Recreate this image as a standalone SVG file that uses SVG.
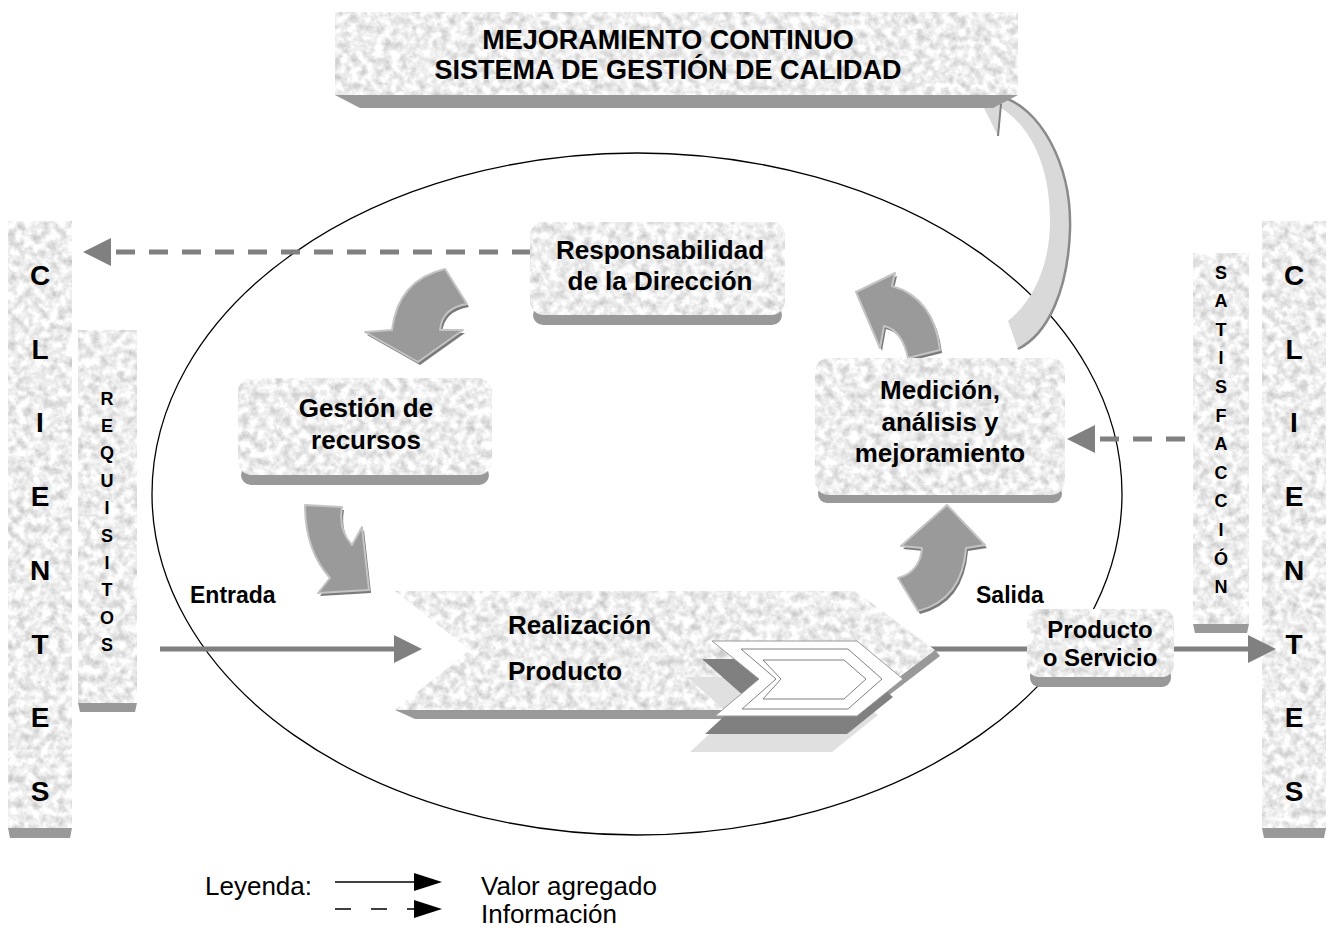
<svg xmlns="http://www.w3.org/2000/svg" width="1331" height="931" viewBox="0 0 1331 931">
<style>
.tex{fill:#e6e6e6;filter:url(#granite)}
.sh{fill:#999999}
.t{font-family:"Liberation Sans",Arial,sans-serif;font-weight:bold;fill:#000}
.big{font-size:26px;text-anchor:middle}
.ban{font-size:27px;text-anchor:middle}
.col{font-size:28px;text-anchor:middle}
.colS{font-size:18px;text-anchor:middle}
.lab{font-size:23px}
.leg{font-family:"Liberation Sans",Arial,sans-serif;font-size:26px;fill:#000}
.conn{stroke:#808080;stroke-width:5;fill:none}
.dash{stroke-dasharray:19 14}
.blk{fill:#9a9a9a;stroke:#c4c4c4;stroke-width:2;stroke-linejoin:round}
.blkS{fill:#7a7a7a}
</style>
<defs>
<filter id="granite" x="0" y="0" width="1" height="1" color-interpolation-filters="sRGB">
<feTurbulence type="fractalNoise" baseFrequency="0.12" numOctaves="4" seed="7" result="n"/>
<feColorMatrix in="n" type="matrix" values="0.4 0 0 0 0.73  0.4 0 0 0 0.73  0.4 0 0 0 0.73  0 0 0 0 1"/>
<feComposite in2="SourceGraphic" operator="in"/>
</filter>
<marker id="grayHead" markerUnits="userSpaceOnUse" markerWidth="28" markerHeight="28" refX="0" refY="14" orient="auto"><path d="M0,0 L28,14 L0,28 Z" fill="#808080"/></marker>
<marker id="blackHead" markerUnits="userSpaceOnUse" markerWidth="28" markerHeight="18" refX="0" refY="9" orient="auto"><path d="M0,0 L28,9 L0,18 Z" fill="#000"/></marker>
<path id="a1" d="M445,269 Q398,280 392,330 L365,332 L418,362 L463,330 L440,330 Q442,308 467,304 Z"/>
<path id="a2" d="M892,286 Q934,298 940,350 L908,358 Q902,330 884,326 L880,348 L856,292 L895,273 Z"/>
<path id="a3" d="M305,505 L342,507 Q338,530 352,545 L362,527 L369,590 L318,593 L330,578 Q305,550 305,505 Z"/>
<path id="a4" d="M918,611 Q962,600 966,548 L985,545 L947,505 L901,546 L922,548 Q920,572 898,578 Z"/>
</defs>
<rect width="1331" height="931" fill="#fff"/>

<g id="cycle-ellipse">
<ellipse cx="637" cy="494" rx="485" ry="341" fill="none" stroke="#000" stroke-width="1.3"/>
</g>

<g id="clientes-left">
<rect class="tex" x="8" y="221" width="64" height="607"/>
<polygon class="sh" points="8,828 72,828 70,838 10,838"/>
<text class="t col" x="40" y="285">C</text>
<text class="t col" x="40" y="359">L</text>
<text class="t col" x="40" y="432">I</text>
<text class="t col" x="40" y="506">E</text>
<text class="t col" x="40" y="580">N</text>
<text class="t col" x="40" y="654">T</text>
<text class="t col" x="40" y="727">E</text>
<text class="t col" x="40" y="801">S</text>
</g>

<g id="requisitos">
<rect class="tex" x="78" y="330" width="59" height="373"/>
<polygon class="sh" points="78,703 137,703 135,712 80,712"/>
<text class="t colS" x="107" y="405">R</text>
<text class="t colS" x="107" y="432">E</text>
<text class="t colS" x="107" y="459">Q</text>
<text class="t colS" x="107" y="487">U</text>
<text class="t colS" x="107" y="514">I</text>
<text class="t colS" x="107" y="542">S</text>
<text class="t colS" x="107" y="569">I</text>
<text class="t colS" x="107" y="596">T</text>
<text class="t colS" x="107" y="624">O</text>
<text class="t colS" x="107" y="651">S</text>
</g>

<g id="satisfaccion">
<rect class="tex" x="1193" y="253" width="56" height="371"/>
<polygon class="sh" points="1193,624 1249,624 1247,633 1195,633"/>
<text class="t colS" x="1221" y="279">S</text>
<text class="t colS" x="1221" y="307">A</text>
<text class="t colS" x="1221" y="336">T</text>
<text class="t colS" x="1221" y="364">I</text>
<text class="t colS" x="1221" y="393">S</text>
<text class="t colS" x="1221" y="422">F</text>
<text class="t colS" x="1221" y="450">A</text>
<text class="t colS" x="1221" y="479">C</text>
<text class="t colS" x="1221" y="507">C</text>
<text class="t colS" x="1221" y="536">I</text>
<text class="t colS" x="1221" y="565">Ó</text>
<text class="t colS" x="1221" y="593">N</text>
</g>

<g id="clientes-right">
<rect class="tex" x="1262" y="221" width="64" height="607"/>
<polygon class="sh" points="1262,828 1326,828 1324,838 1264,838"/>
<text class="t col" x="1294" y="285">C</text>
<text class="t col" x="1294" y="359">L</text>
<text class="t col" x="1294" y="432">I</text>
<text class="t col" x="1294" y="506">E</text>
<text class="t col" x="1294" y="580">N</text>
<text class="t col" x="1294" y="654">T</text>
<text class="t col" x="1294" y="727">E</text>
<text class="t col" x="1294" y="801">S</text>
</g>

<g id="connectors">
<path d="M998,96 C1040,105 1072,165 1070,230 C1068,290 1048,334 1018,349 L1008,321 C1034,300 1050,265 1050,220 C1050,165 1030,122 994,104 Z" fill="#d9d9d9"/>
<path d="M998,96 C1040,105 1072,165 1070,230 C1068,290 1048,334 1018,349" fill="none" stroke="#8a8a8a" stroke-width="2.5"/>
<polygon points="983,106 1001,104 998,136" fill="#d9d9d9"/>
<line x1="1001" y1="104" x2="998" y2="136" stroke="#808080" stroke-width="2"/>
<line class="conn dash" x1="531" y1="252" x2="111" y2="252" marker-end="url(#grayHead)"/>
<line class="conn dash" x1="1185" y1="439" x2="1095" y2="439" marker-end="url(#grayHead)"/>
<line class="conn" x1="160" y1="649" x2="394" y2="649" marker-end="url(#grayHead)"/>
<line class="conn" x1="930" y1="649" x2="1030" y2="649"/>
<line class="conn" x1="1170" y1="649" x2="1248" y2="649" marker-end="url(#grayHead)"/>
<use href="#a1" class="blkS" transform="translate(2,3)"/>
<use href="#a1" class="blk"/>
<use href="#a2" class="blkS" transform="translate(2,3)"/>
<use href="#a2" class="blk"/>
<use href="#a3" class="blkS" transform="translate(2,3)"/>
<use href="#a3" class="blk"/>
<use href="#a4" class="blkS" transform="translate(2,3)"/>
<use href="#a4" class="blk"/>
<text class="t lab" x="190" y="603">Entrada</text>
<text class="t lab" x="976" y="603">Salida</text>
</g>

<g id="banner">
<polygon class="sh" points="335,95 1018,95 993,108 360,108"/>
<rect class="tex" x="335" y="12" width="683" height="83"/>
<text class="t ban" x="668" y="49">MEJORAMIENTO CONTINUO</text>
<text class="t ban" x="668" y="79">SISTEMA DE GESTIÓN DE CALIDAD</text>
</g>

<g id="responsabilidad">
<rect class="sh" x="533" y="305" width="249" height="20" rx="10"/>
<rect class="tex" x="530" y="222" width="255" height="93" rx="14"/>
<text class="t big" x="660" y="259">Responsabilidad</text>
<text class="t big" x="660" y="290">de la Dirección</text>
</g>

<g id="gestion">
<rect class="sh" x="241" y="465" width="248" height="20" rx="10"/>
<rect class="tex" x="238" y="378" width="254" height="97" rx="14"/>
<text class="t big" x="366" y="417">Gestión de</text>
<text class="t big" x="366" y="449">recursos</text>
</g>

<g id="medicion">
<rect class="sh" x="818" y="485" width="244" height="18" rx="9"/>
<rect class="tex" x="815" y="358" width="250" height="137" rx="14"/>
<text class="t big" x="940" y="399">Medición,</text>
<text class="t big" x="940" y="431">análisis y</text>
<text class="t big" x="940" y="462">mejoramiento</text>
</g>

<g id="realizacion">
<polygon class="sh" points="395,710 858,710 850,719 415,719"/>
<polygon class="sh" points="855,710 935,650 940,656 862,716"/>
<polygon class="tex" points="395,591 855,591 935,650 855,710 395,710 470,650"/>
<polygon points="687,677 832,677 878,715 832,752 690,752 730,715" fill="#e0e0e0"/>
<polygon points="702,659 847,659 893,697 847,734 705,734 745,697" fill="#808080"/>
<polygon points="712,641 857,641 903,679 857,716 715,716 759,679" fill="#ffffff" stroke="#9a9a9a" stroke-width="1"/>
<polygon points="741,649 848,649 882,679 848,709 742,709 776,679" fill="none" stroke="#808080" stroke-width="1"/>
<polygon points="763,660 844,660 866,679 844,699 763,699 781,679" fill="none" stroke="#808080" stroke-width="1"/>
<text class="t big" x="508" y="634" style="text-anchor:start">Realización</text>
<text class="t big" x="508" y="680" style="text-anchor:start">Producto</text>
</g>

<g id="producto-servicio">
<rect class="sh" x="1030" y="667" width="141" height="20" rx="9"/>
<rect class="tex" x="1027" y="609" width="147" height="68" rx="12"/>
<text class="t" x="1100" y="638" style="font-size:24px;text-anchor:middle">Producto</text>
<text class="t" x="1100" y="666" style="font-size:24px;text-anchor:middle">o Servicio</text>
</g>

<g id="legend">
<text class="leg" x="205" y="895">Leyenda:</text>
<line x1="335" y1="882" x2="414" y2="882" stroke="#000" stroke-width="1.5" marker-end="url(#blackHead)"/>
<line x1="335" y1="909" x2="414" y2="909" stroke="#000" stroke-width="1.5" stroke-dasharray="16 20" marker-end="url(#blackHead)"/>
<text class="leg" x="481" y="895">Valor agregado</text>
<text class="leg" x="481" y="923">Información</text>
</g>
</svg>
